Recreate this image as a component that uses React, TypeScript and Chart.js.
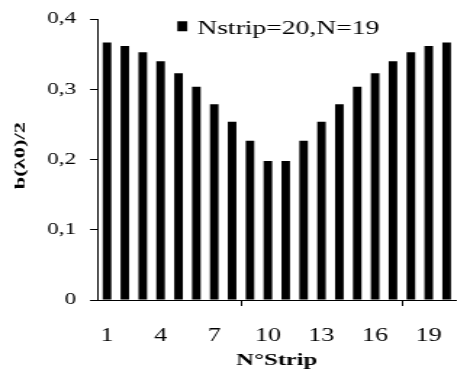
import React, { useEffect, useRef } from 'react';
import { Chart, registerables } from 'chart.js';

Chart.register(...registerables);

// ---- data ----
const categories = ['1', '2', '3', '4', '5', '6', '7', '8', '9', '10', '11', '12', '13', '14', '15', '16', '17', '18', '19', '20'];
const values = [0.367, 0.362, 0.353, 0.340, 0.323, 0.304, 0.279, 0.254, 0.227, 0.198, 0.198, 0.227, 0.254, 0.279, 0.304, 0.323, 0.340, 0.353, 0.362, 0.367];
const yMin = 0;
const yMax = 0.4;
const yStep = 0.1;
const xLabelEvery = 3;
const seriesLabel = 'Nstrip=20,N=19';
const xTitle = 'N°Strip';
const yTitle = 'b(λ0)/2';

// ---- presentation ----
const SX = 1.45; // horizontal stretch of the whole figure
const W = 324;
const H = 374;
const FAMILY = '"Liberation Serif", "Times New Roman", serif';

export default function App() {
  const ref = useRef<HTMLCanvasElement | null>(null);

  useEffect(() => {
    document.body.style.margin = '0';
    const canvas = ref.current;
    if (!canvas) return;

    const overlayPlugin = {
      id: 'overlay',
      afterDraw(chart: any) {
        const { ctx, chartArea } = chart;
        const ds = chart.data.datasets[0];
        // legend (inside chart area)
        ctx.save();
        ctx.font = `19px ${FAMILY}`;
        const tw = ctx.measureText(ds.label).width;
        const box = 10 / SX;
        const gap = 10 / SX;
        const total = box + gap + tw;
        const x0 = (chartArea.left + chartArea.right) / 2 - total / 2 + 1;
        ctx.fillStyle = ds.backgroundColor;
        ctx.fillRect(x0, chartArea.top + 2, box, 10);
        ctx.fillStyle = '#000';
        ctx.textAlign = 'left';
        ctx.textBaseline = 'middle';
        ctx.fillText(ds.label, x0 + box + gap, chartArea.top + 10);
        ctx.restore();

        // y axis title (text stretched along its own direction)
        ctx.save();
        ctx.translate(21 / SX, (chartArea.top + chartArea.bottom) / 2 - 4);
        ctx.scale(1 / SX, 1);
        ctx.rotate(-Math.PI / 2);
        ctx.scale(1.5, 1);
        ctx.font = `bold 15px ${FAMILY}`;
        ctx.fillStyle = '#000';
        ctx.textAlign = 'center';
        ctx.textBaseline = 'middle';
        ctx.fillText(yTitle, 0, 0);
        ctx.restore();
      },
    };

    const chart = new Chart(canvas, {
      type: 'bar',
      data: {
        labels: categories,
        datasets: [
          {
            label: seriesLabel,
            data: values,
            backgroundColor: '#000',
            borderWidth: 0,
            categoryPercentage: 1,
            barPercentage: 0.48,
          },
        ],
      },
      options: {
        responsive: false,
        animation: false,
        devicePixelRatio: 1,
        layout: { padding: { top: 16, right: 5.9, bottom: 0, left: 0 } },
        plugins: {
          legend: { display: false },
          tooltip: { enabled: false },
          title: { display: false },
        },
        scales: {
          x: {
            type: 'category',
            afterFit: (scale: any) => {
              scale.height = 74;
            },
            grid: {
              offset: true,
              drawOnChartArea: false,
              drawTicks: true,
              tickLength: 6,
              lineWidth: 1,
              color: (c: any) => (typeof c.index === 'number' && c.index % xLabelEvery === 0 ? '#000' : 'rgba(0,0,0,0)'),
            },
            border: { display: true, color: '#000', width: 1 },
            ticks: {
              autoSkip: false,
              maxRotation: 0,
              minRotation: 0,
              padding: 19,
              color: '#000',
              font: { family: FAMILY, size: 18 },
              callback: (_v: any, i: number) => (i % xLabelEvery === 0 ? categories[i] : null),
            },
            title: {
              display: true,
              text: xTitle,
              color: '#000',
              font: { family: FAMILY, size: 17, weight: 'bold' },
              padding: { top: 0, bottom: 3 },
            },
          },
          y: {
            min: yMin,
            max: yMax,
            afterFit: (scale: any) => {
              scale.width = 98 / SX;
            },
            grid: {
              drawOnChartArea: false,
              drawTicks: true,
              tickLength: 8 / SX,
              lineWidth: 1,
              color: '#000',
            },
            border: { display: true, color: '#000', width: 1 },
            ticks: {
              stepSize: yStep,
              padding: 14 / SX,
              color: '#000',
              font: { family: FAMILY, size: 16 },
              callback: (v: any) => (Number(v) === 0 ? '0' : Number(v).toFixed(1).replace('.', ',')),
            },
            title: { display: false },
          },
        },
      },
      plugins: [overlayPlugin],
    } as any);

    return () => chart.destroy();
  }, []);

  return (
    <div style={{ width: 457, height: 374, overflow: 'hidden', background: '#fff' }}>
      <canvas
        ref={ref}
        width={W}
        height={H}
        style={{ width: `${W * SX}px`, height: `${H}px`, display: 'block' }}
      />
    </div>
  );
}
